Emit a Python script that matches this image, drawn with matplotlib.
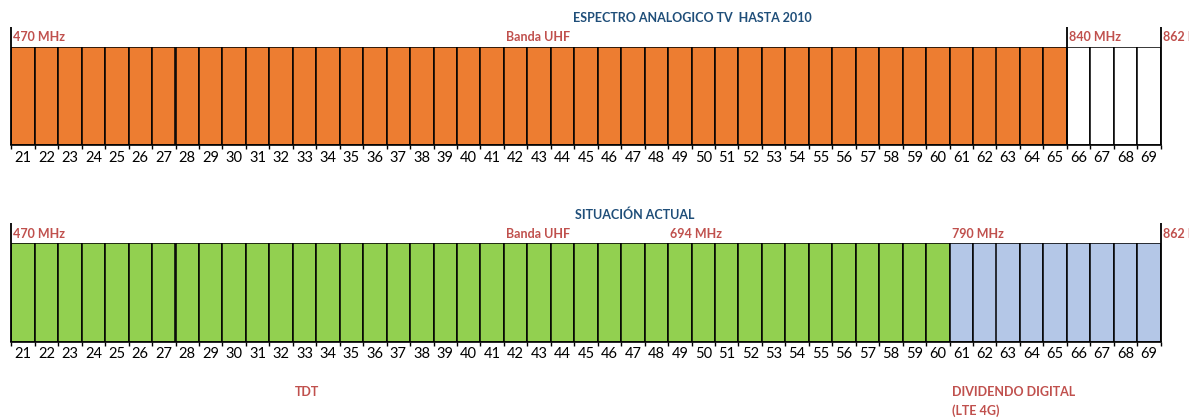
import numpy as np
import matplotlib.pyplot as plt
from matplotlib.ticker import FixedLocator

plt.rcParams['font.family'] = ['Lato', 'DejaVu Sans']

# UHF TV channels 21..69 (8 MHz each, 470-862 MHz)
channels = list(range(21, 70))
# top: analog TV up to 2010 -> channels 21-65 used, 66-69 free
analog_used = [c <= 65 for c in channels]
# bottom: today -> TDT on 21-60, digital dividend (LTE) on 61-69
tdt_used = [c <= 60 for c in channels]

ORANGE = '#ED7D31'
GREEN = '#92D050'
LBLUE = '#B4C7E7'
RED = '#C0504D'
NAVY = '#1F4E79'

W, H = 1189, 418
fig = plt.figure(figsize=(W / 100, H / 100), dpi=100)

def px(x, y):
    return x / W, 1 - y / H

def make_axes(top_px, bot_px):
    x0, y0 = px(11.3, bot_px)
    x1, y1 = px(1160.7, top_px)
    ax = fig.add_axes([x0, y0, x1 - x0, y1 - y0])
    ax.set_xlim(channels[0] - 0.5, channels[-1] + 0.5)
    ax.set_ylim(0, 1)
    for s in ['left', 'right', 'top']:
        ax.spines[s].set_visible(False)
    ax.spines['bottom'].set_linewidth(1.2)
    ax.set_yticks([])
    ax.set_xticks(channels)
    ax.set_xticklabels([str(c) for c in channels], fontsize=10.5)
    ax.tick_params(axis='x', which='major', length=0, pad=4)
    ax.xaxis.set_minor_locator(FixedLocator(np.arange(channels[0] - 0.5, channels[-1] + 1)))
    ax.tick_params(axis='x', which='minor', length=3, width=1)
    return ax

def bars(ax, colors):
    ax.bar(channels, [1] * len(channels), width=1, color=colors,
           edgecolor='black', linewidth=1.1)

def marker_lines(ax, xs):
    ax.vlines(xs, 0, 1.205, transform=ax.get_xaxis_transform(),
              colors='black', linewidth=1.3, clip_on=False)

# --- analog spectrum until 2010 ---
ax1 = make_axes(47.3, 145.3)
bars(ax1, [ORANGE if u else 'white' for u in analog_used])
marker_lines(ax1, [20.5, 65.5, 69.5])

# --- current situation ---
ax2 = make_axes(243.3, 341.7)
bars(ax2, [GREEN if u else LBLUE for u in tdt_used])
marker_lines(ax2, [20.5, 69.5])

def label(x, y, s, color=RED, ha='left'):
    fig.text(*px(x, y), s, color=color, fontsize=9, fontweight='bold',
             ha=ha, va='center')

label(692, 18, 'ESPECTRO ANALOGICO TV  HASTA 2010', NAVY, 'center')
label(13, 37, '470 MHz')
label(506, 37, 'Banda UHF')
label(1069, 37, '840 MHz')
label(1163, 37, '862 MHz')

label(635, 215, 'SITUACIÓN ACTUAL', NAVY, 'center')
label(13, 234, '470 MHz')
label(506, 234, 'Banda UHF')
label(670, 234, '694 MHz')
label(952, 234, '790 MHz')
label(1163, 234, '862 MHz')

label(295, 392, 'TDT')
label(952, 392, 'DIVIDENDO DIGITAL')
label(952, 411, '(LTE 4G)')

fig.savefig('out.png', dpi=100)
